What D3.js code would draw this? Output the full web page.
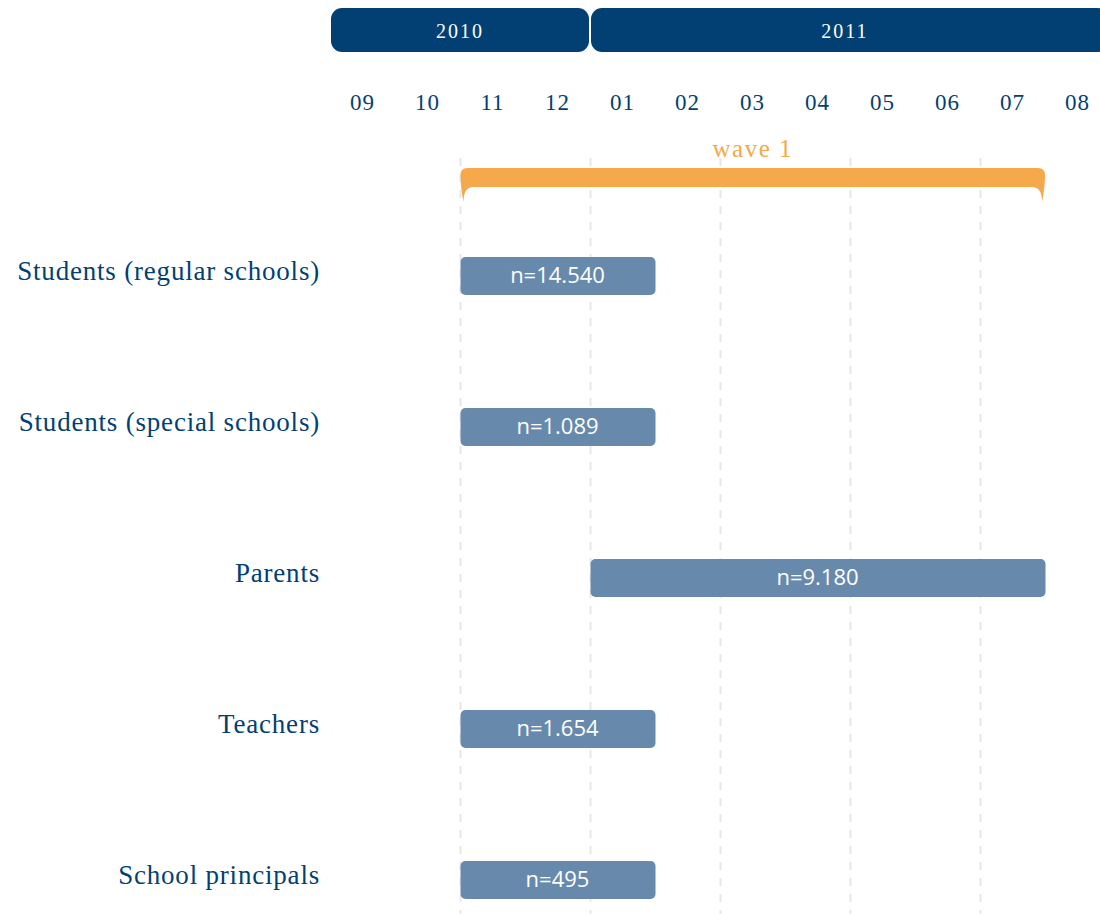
<!DOCTYPE html>
<html>
<head>
<meta charset="utf-8">
<script src="https://cdn.jsdelivr.net/npm/d3@7"></script>
<style>
  body { margin: 0; background: #fff; }
  svg { display: block; }
</style>
</head>
<body>
<div id="chart"></div>
<script>
/* DATA */
var months = ["2010-09", "2010-10", "2010-11", "2010-12", "2011-01", "2011-02",
              "2011-03", "2011-04", "2011-05", "2011-06", "2011-07", "2011-08"];
var monthLabels = ["09", "10", "11", "12", "01", "02", "03", "04", "05", "06", "07", "08"];
var years = ["2010", "2011"];
var yearStart = ["2010-09", "2011-01"];
var yearEnd = ["2010-12", "2011-08"];
var gridMonths = ["2010-11", "2011-01", "2011-03", "2011-05", "2011-07"];

var groups = ["Students (regular schools)", "Students (special schools)", "Parents", "Teachers", "School principals"];
var startMonth = ["2010-11", "2010-11", "2011-01", "2010-11", "2010-11"];
var endMonth = ["2011-01", "2011-01", "2011-07", "2011-01", "2011-01"];
var sampleSize = ["n=14.540", "n=1.089", "n=9.180", "n=1.654", "n=495"];

var waveLabel = "wave 1";
var waveStart = "2010-11";
var waveEnd = "2011-07";

var w = 1100, h = 914;
var dark = "#023f73";
var orange = "#f5a94a";
var serif = "'Liberation Serif', 'DejaVu Serif', serif";

var svg = d3.select("#chart").append("svg")
    .attr("width", w)
    .attr("height", h);

/* SCALES */
var xScale = d3.scaleBand()
    .domain(months)
    .range([330, 1110])
    .paddingInner(0)
    .paddingOuter(0);
var bw = xScale.bandwidth();

var yScale = d3.scalePoint()
    .domain(groups)
    .range([276, 880]);

/* GRIDLINES */
svg.append("g")
    .selectAll("line")
    .data(gridMonths)
    .enter()
    .append("line")
    .attr("x1", d => xScale(d) + 0.5)
    .attr("x2", d => xScale(d) + 0.5)
    .attr("y1", 158)
    .attr("y2", h)
    .attr("stroke", "#e8e8e8")
    .attr("stroke-width", 2)
    .attr("stroke-dasharray", "8,8");

/* YEAR HEADER */
var yearData = years.map((y, i) => ({ year: y, start: yearStart[i], end: yearEnd[i] }));

svg.append("g")
    .selectAll("rect")
    .data(yearData)
    .enter()
    .append("rect")
    .attr("x", d => xScale(d.start) + 1)
    .attr("y", 8)
    .attr("width", d => xScale(d.end) + bw - xScale(d.start) - 2)
    .attr("height", 44)
    .attr("rx", 11)
    .attr("fill", dark);

svg.append("g")
    .selectAll("text")
    .data(yearData)
    .enter()
    .append("text")
    .attr("x", d => Math.min((xScale(d.start) + xScale(d.end) + bw) / 2, (xScale(d.start) + w) / 2))
    .attr("y", 38)
    .attr("text-anchor", "middle")
    .attr("fill", "#fff")
    .style("font-family", serif)
    .style("font-size", "20px")
    .style("letter-spacing", "2px")
    .text(d => d.year);

/* MONTH AXIS */
var xAxis = d3.axisTop(xScale)
    .tickSize(0)
    .tickFormat((d, i) => monthLabels[i]);

var axisG = svg.append("g")
    .attr("transform", "translate(0,113)")
    .call(xAxis);
axisG.select(".domain").remove();
axisG.selectAll("text")
    .attr("fill", dark)
    .style("font-family", serif)
    .style("font-size", "23px")
    .style("letter-spacing", "1px");

/* WAVE BRACKET */
var bx0 = xScale(waveStart) + 0.5;
var bx1 = xScale(waveEnd) + bw;
var bTop = 168, bBottom = 187, bTip = 202;

var bracket = d3.path();
bracket.moveTo(bx0 + 3, bTip);
bracket.quadraticCurveTo(bx0, bBottom, bx0, bTop + 7);
bracket.quadraticCurveTo(bx0, bTop, bx0 + 7, bTop);
bracket.lineTo(bx1 - 7, bTop);
bracket.quadraticCurveTo(bx1, bTop, bx1, bTop + 7);
bracket.quadraticCurveTo(bx1, bBottom, bx1 - 3, bTip);
bracket.quadraticCurveTo(bx1 - 3, bBottom, bx1 - 13, bBottom);
bracket.lineTo(bx0 + 13, bBottom);
bracket.quadraticCurveTo(bx0 + 3, bBottom, bx0 + 3, bTip);
bracket.closePath();

svg.append("path")
    .attr("d", bracket.toString())
    .attr("fill", orange);

svg.append("text")
    .attr("x", (bx0 + bx1) / 2)
    .attr("y", 157)
    .attr("text-anchor", "middle")
    .attr("fill", orange)
    .style("font-family", serif)
    .style("font-size", "25px")
    .style("letter-spacing", "1.5px")
    .text(waveLabel);

/* ROW LABELS */
svg.append("g")
    .selectAll("text")
    .data(groups)
    .enter()
    .append("text")
    .attr("x", 320)
    .attr("y", d => yScale(d) + 4)
    .attr("text-anchor", "end")
    .attr("fill", dark)
    .style("font-family", serif)
    .style("font-size", "27px")
    .style("letter-spacing", "0.8px")
    .text(d => d);

/* BARS */
var rows = groups.map((g, i) => ({ group: g, start: startMonth[i], end: endMonth[i], n: sampleSize[i] }));

svg.append("g")
    .selectAll("rect")
    .data(rows)
    .enter()
    .append("rect")
    .attr("x", d => xScale(d.start) + 0.5)
    .attr("y", d => yScale(d.group) - 19)
    .attr("width", d => xScale(d.end) + bw - xScale(d.start))
    .attr("height", 38)
    .attr("rx", 5)
    .attr("fill", "#678aac");

svg.append("g")
    .selectAll("text")
    .data(rows)
    .enter()
    .append("text")
    .attr("x", d => (xScale(d.start) + xScale(d.end) + bw) / 2)
    .attr("y", d => yScale(d.group) + 7)
    .attr("text-anchor", "middle")
    .attr("fill", "#fff")
    .style("font-family", "'Open Sans', sans-serif")
    .style("font-size", "22px")
    .text(d => d.n);
</script>
</body>
</html>
